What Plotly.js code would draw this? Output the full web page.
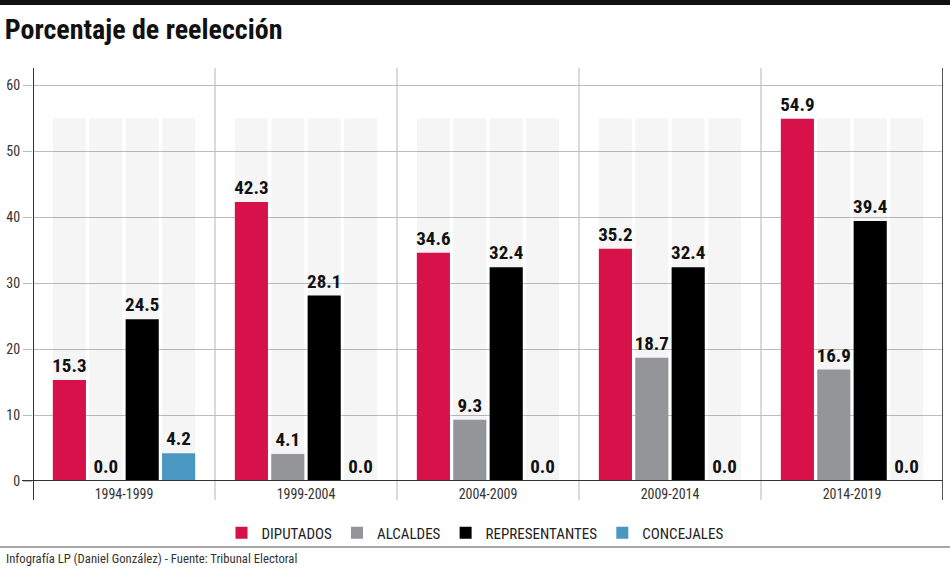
<!DOCTYPE html>
<html>
<head>
<meta charset="utf-8">
<script src="https://cdn.plot.ly/plotly-3.0.1.min.js"></script>
<style>html,body{margin:0;padding:0;background:#fff;}#chart{width:950px;height:568px;}</style>
</head>
<body>
<div id="chart"></div>
<script>
var categories = ['1994-1999','1999-2004','2004-2009','2009-2014','2014-2019'];
var diputados = [15.3, 42.3, 34.6, 35.2, 54.9];
var alcaldes = [0.0, 4.1, 9.3, 18.7, 16.9];
var representantes = [24.5, 28.1, 32.4, 32.4, 39.4];
var concejales = [4.2, 0.0, 0.0, 0.0, 0.0];
var backgroundLevel = [55, 55, 55, 55, 55];
var seriesNames = ['DIPUTADOS','ALCALDES','REPRESENTANTES','CONCEJALES'];
var seriesValues = [diputados, alcaldes, representantes, concejales];
var seriesColors = ['#d7124a', '#939598', '#000000', '#4a98c2'];
var tickValues = [0, 10, 20, 30, 40, 50, 60];

var COND = '"Roboto Condensed", "DejaVu Sans Condensed", sans-serif';
var W = 0.182;
var offsets = [-0.391, -0.191, 0.009, 0.209];

var traces = [];
for (var i = 0; i < 4; i++) {
  traces.push({
    type: 'bar', x: categories, y: backgroundLevel,
    width: W, offset: offsets[i],
    marker: {color: 'rgba(0,0,0,0.04)'}, showlegend: false, hoverinfo: 'skip'
  });
}
for (var i = 0; i < 4; i++) {
  traces.push({
    type: 'bar', x: categories, y: seriesValues[i], name: seriesNames[i],
    width: W, offset: offsets[i],
    marker: {color: seriesColors[i]},
    texttemplate: '%{y:.1f}', textposition: 'outside', cliponaxis: false, constraintext: 'none',
    textfont: {family: COND, size: 19, color: '#111', weight: 'bold'},
    outsidetextfont: {family: COND, size: 19, color: '#111', weight: 'bold'}
  });
}

function px2x(px) { return (px - 33) / 910; }
function py2y(py) { return (481 - py) / 413; }

var shapes = [];
shapes.push({type:'rect', xref:'paper', yref:'paper', x0: px2x(0), x1: px2x(950), y0: py2y(5), y1: py2y(-2), fillcolor:'#111', line:{width:0}, layer:'above'});
[0.5,1.5,2.5,3.5].forEach(function(v){
  shapes.push({type:'line', xref:'x', yref:'paper', x0:v, x1:v, y0: py2y(500), y1: 1, line:{color:'#b5b5b5', width:1}, layer:'below'});
});
shapes.push({type:'line', xref:'x', yref:'paper', x0:-0.5, x1:-0.5, y0: py2y(500), y1: 1, line:{color:'#333', width:2}, layer:'above'});
shapes.push({type:'line', xref:'x', yref:'paper', x0:4.5, x1:4.5, y0: py2y(500), y1: 1, line:{color:'#555', width:2}, layer:'above'});
shapes.push({type:'line', xref:'paper', yref:'y', x0: px2x(22), x1: 1, y0: 0, y1: 0, line:{color:'#333', width:2}, layer:'above'});
shapes.push({type:'line', xref:'paper', yref:'paper', x0: px2x(0), x1: px2x(950), y0: py2y(547), y1: py2y(547), line:{color:'#a8a8a8', width:2}});

var layout = {
  width: 950, height: 568,
  margin: {l: 33, r: 7, t: 68, b: 87},
  paper_bgcolor: '#fff', plot_bgcolor: '#fff',
  barmode: 'overlay',
  title: {text: '<b>Porcentaje de reelección</b>', xref: 'container', yref: 'container', x: 0.005, xanchor: 'left', y: 1 - 29/568, yanchor: 'middle',
          font: {family: COND, size: 28, color: '#111'}},
  xaxis: {type: 'category', range: [-0.5, 4.5], showgrid: false, showline: false, zeroline: false, ticks: '',
          ticklabelstandoff: 3,
          tickfont: {family: COND, size: 14, color: '#333'}, fixedrange: true},
  yaxis: {range: [0, 62.6], tickvals: tickValues, showgrid: true, gridcolor: '#bdbdbd', gridwidth: 1,
          zeroline: false, showline: false, ticks: 'outside', ticklen: 9, tickcolor: '#bdbdbd',
          tickfont: {family: COND, size: 14, color: '#333'}, fixedrange: true},
  legend: {orientation: 'h', xref: 'container', yref: 'container', x: 0.5, xanchor: 'center', y: 1 - 533/568, yanchor: 'middle',
           bgcolor: 'rgba(0,0,0,0)', font: {family: COND, size: 15, color: '#222'}, itemwidth: 30, traceorder: 'normal'},
  shapes: shapes,
  annotations: [{text: 'Infografía LP (Daniel González) - Fuente: Tribunal Electoral', xref: 'paper', yref: 'paper',
                 x: px2x(4), y: py2y(558), xanchor: 'left', yanchor: 'middle', showarrow: false,
                 font: {family: COND, size: 12.7, color: '#333'}}],
  showlegend: true
};

Plotly.newPlot('chart', traces, layout, {displayModeBar: false, staticPlot: true});
</script>
</body>
</html>
